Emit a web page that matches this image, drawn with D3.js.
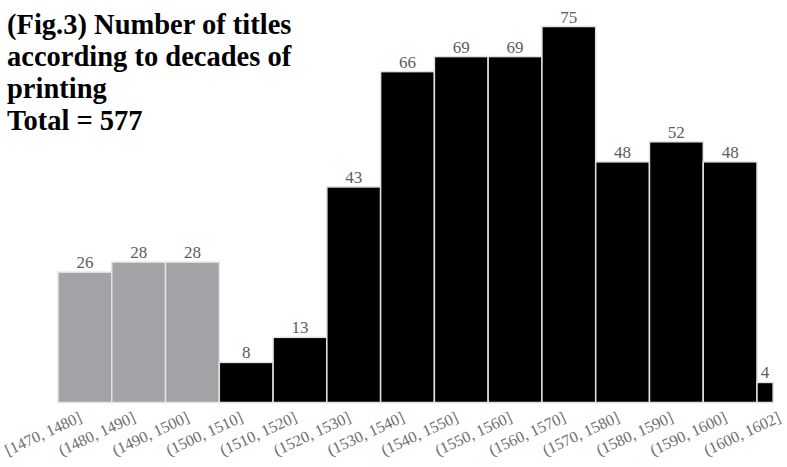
<!DOCTYPE html>
<html>
<head>
<meta charset="utf-8">
<script src="https://cdn.jsdelivr.net/npm/d3@7"></script>
<style>
  html, body { margin: 0; padding: 0; background: #fff; }
  svg { display: block; }
</style>
</head>
<body>
<svg id="chart" width="787" height="467"></svg>
<script>
// Decade bins of printing dates and title counts
const binLabels = ["[1470, 1480]", "(1480, 1490]", "(1490, 1500]", "(1500, 1510]", "(1510, 1520]",
  "(1520, 1530]", "(1530, 1540]", "(1540, 1550]", "(1550, 1560]", "(1560, 1570]",
  "(1570, 1580]", "(1580, 1590]", "(1590, 1600]", "(1600, 1602]"];
const binStart = [1470, 1480, 1490, 1500, 1510, 1520, 1530, 1540, 1550, 1560, 1570, 1580, 1590, 1600];
const binEnd   = [1480, 1490, 1500, 1510, 1520, 1530, 1540, 1550, 1560, 1570, 1580, 1590, 1600, 1602];
const counts   = [26, 28, 28, 8, 13, 43, 66, 69, 69, 75, 48, 52, 48, 4];
// incunabula (up to 1500) vs. sixteenth-century editions
const period   = ["inc", "inc", "inc", "c16", "c16", "c16", "c16", "c16", "c16", "c16", "c16", "c16", "c16", "c16"];
const titleLines = ["(Fig.3) Number of titles", "according to decades of", "printing", "Total = 577"];

const svg = d3.select("#chart");
const serif = "'Liberation Serif', 'Times New Roman', serif";

// one band per bin; a bar fills its band in proportion to the years it covers
const x = d3.scaleBand().domain(binLabels).range([58, 58 + 14 * 53.77]).padding(0);
const y = d3.scaleLinear().domain([0, 75]).range([402.5, 26.5]);
const color = d3.scaleOrdinal().domain(["inc", "c16"]).range(["#a3a3a7", "#000000"]);

const data = counts.map((v, i) => ({
  label: binLabels[i], start: binStart[i], end: binEnd[i], value: v, period: period[i]
}));
const barW = d => x.bandwidth() * Math.min(1, (d.end - d.start + 1) / 10);

svg.append("g")
  .selectAll("rect")
  .data(data)
  .join("rect")
  .attr("x", d => x(d.label))
  .attr("y", d => y(d.value))
  .attr("width", d => barW(d))
  .attr("height", d => y(0) - y(d.value))
  .attr("fill", d => color(d.period))
  .attr("stroke", "#e2e2e2")
  .attr("stroke-width", 1.5);

// value labels above bars
svg.append("g")
  .selectAll("text")
  .data(data)
  .join("text")
  .attr("x", d => x(d.label) + barW(d) / 2)
  .attr("y", d => y(d.value) - 4)
  .attr("text-anchor", "middle")
  .attr("font-family", serif)
  .attr("font-size", 17)
  .attr("fill", "#5c5c5c")
  .text(d => d.value);

// rotated bin labels, anchored at band centres
svg.append("g")
  .selectAll("text")
  .data(data)
  .join("text")
  .attr("transform", d => `translate(${x(d.label) + x.bandwidth() / 2 - 2},${y(0) + 18.5}) rotate(-25)`)
  .attr("text-anchor", "end")
  .attr("font-family", serif)
  .attr("font-size", 16)
  .attr("fill", "#6e6e6e")
  .text(d => d.label);

// title block
svg.append("g")
  .selectAll("text")
  .data(titleLines)
  .join("text")
  .attr("x", 7)
  .attr("y", (d, i) => 34 + i * 32)
  .attr("font-family", serif)
  .attr("font-weight", "bold")
  .attr("font-size", 28.5)
  .attr("fill", "#000")
  .text(d => d);
</script>
</body>
</html>
